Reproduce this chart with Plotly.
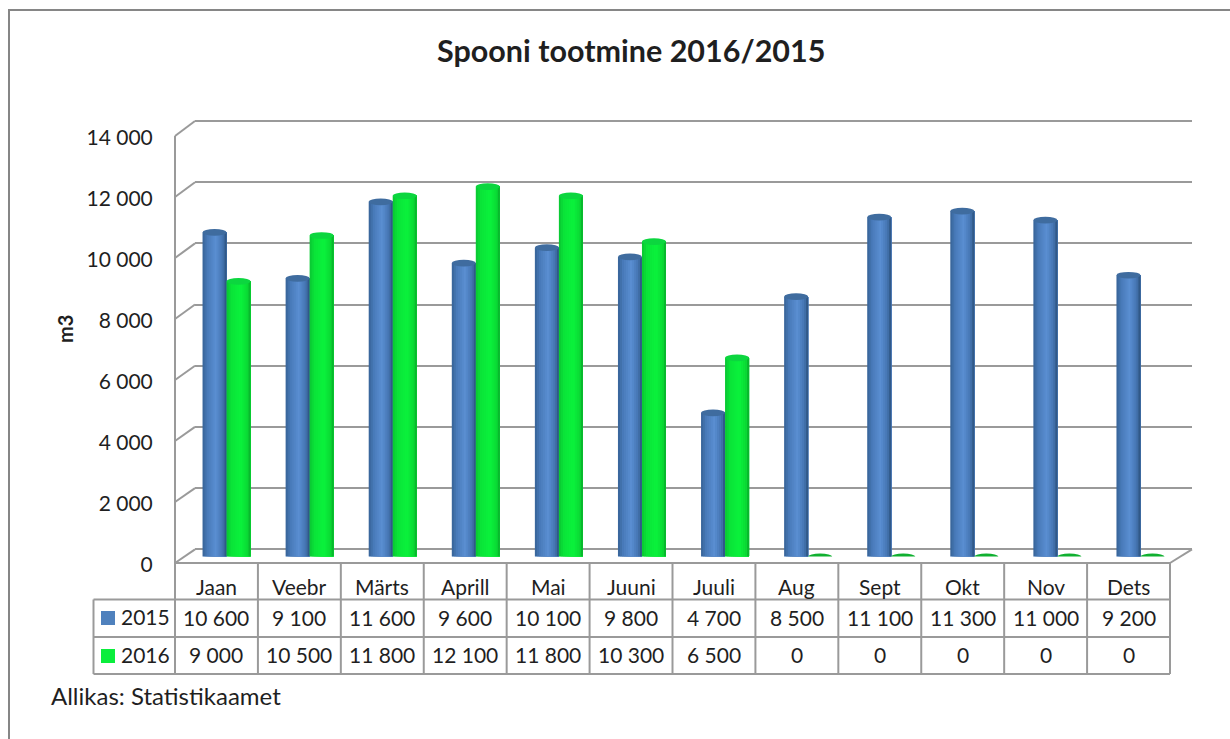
import plotly.graph_objects as go

W, H = 1230, 739
months = ["Jaan", "Veebr", "Märts", "Aprill", "Mai", "Juuni", "Juuli", "Aug", "Sept", "Okt", "Nov", "Dets"]
values_2015 = [10600, 9100, 11600, 9600, 10100, 9800, 4700, 8500, 11100, 11300, 11000, 9200]
values_2016 = [9000, 10500, 11800, 12100, 11800, 10300, 6500, 0, 0, 0, 0, 0]
ticks = [0, 2000, 4000, 6000, 8000, 10000, 12000, 14000]
title = "Spooni tootmine 2016/2015"
source = "Allikas: Statistikaamet"
y_title = "m3"

FONT = "Lato"
TXT = "#1f1f1f"
LINE = "#9a9a9a"
FRAME = "#868686"
BLUE_STOPS = [(0, (54, 98, 150)), (0.2, (72, 122, 184)), (0.55, (90, 142, 210)), (0.85, (68, 116, 176)), (1, (42, 78, 120))]
GREEN_STOPS = [(0, (10, 196, 50)), (0.2, (10, 228, 56)), (0.6, (10, 242, 60)), (0.87, (10, 218, 52)), (1, (8, 168, 42))]
BLUE_TOP, GREEN_TOP = "#3f6c9f", "#0cd63f"
GREEN_FLAT = "#10b030"
BLUE_KEY, GREEN_KEY = "#4f81bd", "#0aee3c"


def px(x):
    return x / W


def py(y):
    return 1 - y / H


def shade(stops, t):
    for (a, ca), (b, cb) in zip(stops, stops[1:]):
        if t <= b:
            f = (t - a) / (b - a)
            c = [round(u + (v - u) * f) for u, v in zip(ca, cb)]
            return f"rgb({c[0]},{c[1]},{c[2]})"
    return f"rgb{stops[-1][1]}"


def fmt(v):
    return f"{v:,}".replace(",", " ")


idx = list(range(12))
fig = go.Figure()

# back wall grid
fig.add_trace(go.Scatter(x=[0], y=[0], xaxis="x", yaxis="y", mode="markers", opacity=0,
                         showlegend=False, hoverinfo="skip"))
# front axis with labels
fig.add_trace(go.Scatter(x=[0] * len(ticks), y=ticks, xaxis="x", yaxis="y3", mode="markers", opacity=0,
                         showlegend=False, hoverinfo="skip"))

# cylinders: painter's stack of strips
BW = 24 / 83.08
N = 12
shapes = []
for name, vals, stops, start, top, in [
    ("2015", values_2015, BLUE_STOPS, -BW, BLUE_TOP),
    ("2016", values_2016, GREEN_STOPS, 0, GREEN_TOP),
]:
    for k in range(N):
        t = (k + 0.5) / N
        off = start + BW * k / N
        fig.add_trace(go.Bar(x=idx, y=vals, xaxis="x2", yaxis="y2", name=name, showlegend=False,
                             offset=off, width=BW * (N - k) / N,
                             marker=dict(color=shade(stops, t), line=dict(width=0)), hoverinfo="skip"))
    for i, v in zip(idx, vals):
        x0, x1 = i + start, i + start + BW
        ry = 95
        base_col = shade(stops, 0.5) if v > 0 else GREEN_FLAT
        shapes.append(dict(type="circle", xref="x2", yref="y2", x0=x0, x1=x1, y0=-ry, y1=ry,
                           fillcolor=base_col, line=dict(width=0), layer="below" if v > 0 else "above"))
        if v > 0:
            shapes.append(dict(type="circle", xref="x2", yref="y2", x0=x0, x1=x1, y0=v - 110, y1=v + 110,
                               fillcolor=top, line=dict(width=0), layer="above"))


def seg(x0, y0, x1, y1, color=LINE, w=2):
    shapes.append(dict(type="line", xref="paper", yref="paper", x0=px(x0), x1=px(x1), y0=py(y0), y1=py(y1),
                       line=dict(color=color, width=w), layer="below"))


# outer frame
seg(9, 10, 9, H, FRAME, 2)
seg(8, 10, W, 10, FRAME, 2)

# side wall and floor
FX, BX = 175, 195
F0, F14 = 563, 136
B0, B14 = 549.3, 121
seg(FX, F0, FX, F14)
for v in ticks:
    seg(FX, F0 + (F14 - F0) * v / 14000, BX, B0 + (B14 - B0) * v / 14000)
seg(1170, F0, 1192, B0)

# data table
TL, TR = 93.5, 1170
R0, R1, R2, R3 = 563, 599.5, 637, 674
CW = (TR - FX) / 12
seg(FX, R0, TR, R0)
for y in (R1, R2, R3):
    seg(TL, y, TR, y)
seg(TL, R1, TL, R3)
for i in range(13):
    seg(FX + CW * i, R0, FX + CW * i, R3)
for y0, c in ((611, BLUE_KEY), (649, GREEN_KEY)):
    shapes.append(dict(type="rect", xref="paper", yref="paper", x0=px(101), x1=px(115), y0=py(y0), y1=py(y0 + 14),
                       fillcolor=c, line=dict(width=0), layer="above"))

ann = []


def text(x, y, s, size=21, anchor="center", **kw):
    ann.append(dict(x=px(x), y=py(y), xref="paper", yref="paper", text=s, showarrow=False, xanchor=anchor,
                    yanchor="middle", font=dict(family=FONT, size=size, color=TXT), **kw))


for i in idx:
    cx = FX + CW * (i + 0.5)
    text(cx, 586, months[i])
    text(cx, 617, fmt(values_2015[i]))
    text(cx, 654, fmt(values_2016[i]))
text(119, 616, "2015", anchor="left")
text(119, 654, "2016", anchor="left")
text(49, 695.5, source, size=24, anchor="left")
text(631, 50, f"<b>{title}</b>", size=30.5)
text(65, 329, f"<b>{y_title}</b>", size=20, textangle=-90)

# grid range padded so the lines at 0 and 14 000 are kept by the axis
PAD = 200
PAD_PX = PAD * (B0 - B14) / 14000
LABEL_SHIFT = 2

fig.update_layout(
    width=W, height=H, margin=dict(l=0, r=0, t=0, b=0, pad=0, autoexpand=False), autosize=False,
    paper_bgcolor="white", plot_bgcolor="rgba(0,0,0,0)", barmode="overlay", showlegend=False,
    font=dict(family=FONT, color=TXT),
    shapes=shapes, annotations=ann,
    xaxis=dict(domain=[px(BX), px(1192)], range=[0, 12], visible=False),
    yaxis=dict(domain=[py(B0 + PAD_PX), py(B14 - PAD_PX)], range=[-PAD, 14000 + PAD], tickvals=ticks, showgrid=True,
               gridcolor=LINE, gridwidth=2, zeroline=False, showline=False, showticklabels=False, ticks=""),
    xaxis2=dict(domain=[px(185), px(1182)], range=[-0.5, 11.5], visible=False, anchor="y2"),
    yaxis2=dict(domain=[py(556.5), py(128.5)], range=[0, 14000], visible=False, anchor="x2"),
    yaxis3=dict(domain=[py(F0 + LABEL_SHIFT), py(F14 + LABEL_SHIFT)], range=[0, 14000], anchor="free", position=px(FX),
                side="left", tickvals=ticks, ticktext=[fmt(t) for t in ticks], showgrid=False, zeroline=False,
                showline=False, ticks="outside", ticklen=18,
                tickcolor="rgba(0,0,0,0)", tickfont=dict(family=FONT, size=21, color=TXT)),
)

fig.write_html("out.html", config={"displayModeBar": False},
               post_script="document.body.style.margin='0';document.body.style.overflow='hidden';")
